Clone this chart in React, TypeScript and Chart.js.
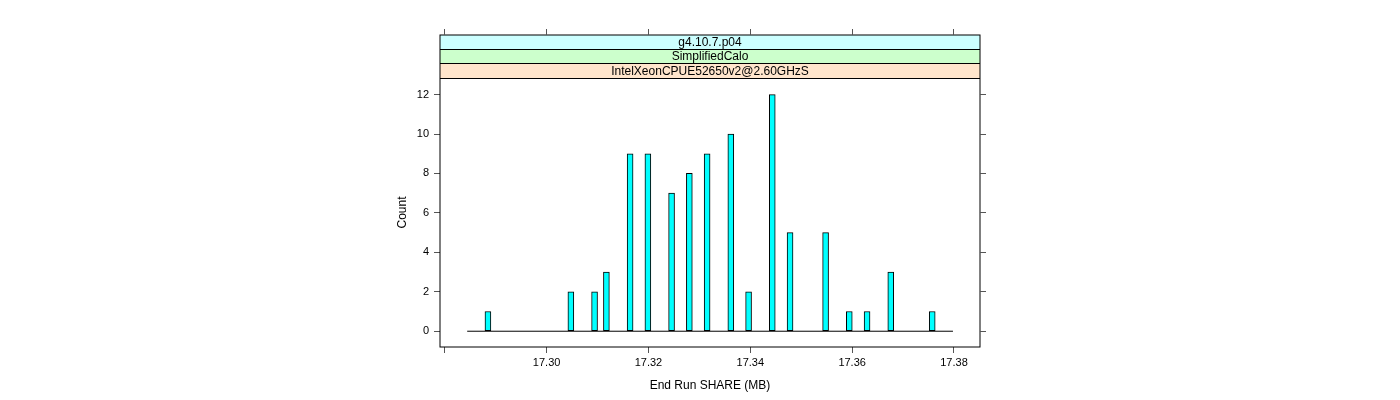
import React, { useEffect, useRef } from 'react';
import { Chart, registerables } from 'chart.js';

Chart.register(...registerables);

// ---- data ----
const histStart = 17.2844; // MB, left edge of first histogram bin
const histEnd = 17.3798; // MB, right edge of last histogram bin
const binCount = 82;
const shareMB = [
  17.2885, 17.3048, 17.3094, 17.3117, 17.3164, 17.3199, 17.3245, 17.328, 17.3315,
  17.3362, 17.3397, 17.3443, 17.3478, 17.3548, 17.3594, 17.3629, 17.3676, 17.3757,
];
const counts = [1, 2, 2, 3, 9, 9, 7, 8, 9, 10, 2, 12, 5, 5, 1, 1, 3, 1];
const xTickValues = [17.28, 17.3, 17.32, 17.34, 17.36, 17.38];
const xTickLabels = ['', '17.30', '17.32', '17.34', '17.36', '17.38'];
const yTickValues = [0, 2, 4, 6, 8, 10, 12];
const xLimits = [17.27906, 17.38511];
const yLimits = [-0.8, 12.84];
const stripLabels = ['g4.10.7.p04', 'SimplifiedCalo', 'IntelXeonCPUE52650v2@2.60GHzS'];
const stripColors = ['#CCFFFF', '#CCFFCC', '#FFE5CC'];
const xTitle = 'End Run SHARE (MB)';
const yTitle = 'Count';

const FONT = "'Liberation Sans', Arial, Helvetica, sans-serif";
const TICK_COLOR = '#555555';

function buildBins() {
  const width = (histEnd - histStart) / binCount;
  const bins = [];
  for (let i = 0; i < binCount; i++) {
    bins.push({ x: histStart + (i + 0.5) * width, y: 0 });
  }
  shareMB.forEach((v, k) => {
    const idx = Math.min(binCount - 1, Math.max(0, Math.floor((v - histStart) / width)));
    bins[idx].y = counts[k];
  });
  return bins;
}

const latticeFrame = {
  id: 'latticeFrame',
  afterDraw(chart: any) {
    const { ctx, chartArea: a, scales } = chart;
    const xs = scales.x;
    const ys = scales.y;
    const align = (p: number) => Math.round(p - 0.5) + 0.5;
    ctx.save();
    // strips (top to bottom)
    const edges = [a.top - 43, a.top - 28.5, a.top - 14.5, a.top];
    for (let i = 0; i < 3; i++) {
      ctx.fillStyle = stripColors[i];
      ctx.fillRect(a.left, edges[i], a.right - a.left, edges[i + 1] - edges[i]);
    }
    ctx.strokeStyle = '#000';
    ctx.lineWidth = 1;
    ctx.beginPath();
    ctx.moveTo(a.left, edges[1]);
    ctx.lineTo(a.right, edges[1]);
    ctx.moveTo(a.left, edges[2]);
    ctx.lineTo(a.right, edges[2]);
    ctx.moveTo(a.left, a.top + 0.5);
    ctx.lineTo(a.right, a.top + 0.5);
    ctx.stroke();
    ctx.fillStyle = '#000';
    ctx.font = `12px ${FONT}`;
    ctx.textAlign = 'center';
    ctx.textBaseline = 'middle';
    const cx = (a.left + a.right) / 2;
    for (let i = 0; i < 3; i++) {
      ctx.fillText(stripLabels[i], cx, (edges[i] + edges[i + 1]) / 2 + 0.5);
    }
    // outer frame
    ctx.strokeStyle = '#000';
    ctx.strokeRect(a.left, edges[0], a.right - a.left, a.bottom - edges[0]);
    // top ticks
    ctx.strokeStyle = TICK_COLOR;
    ctx.beginPath();
    xTickValues.forEach((v) => {
      const px = align(xs.getPixelForValue(v));
      ctx.moveTo(px, edges[0] - 6);
      ctx.lineTo(px, edges[0]);
    });
    // right ticks
    yTickValues.forEach((v) => {
      const py = align(ys.getPixelForValue(v));
      ctx.moveTo(a.right, py);
      ctx.lineTo(a.right + 6, py);
    });
    ctx.stroke();
    ctx.restore();
  },
};

export default function App() {
  const canvasRef = useRef<HTMLCanvasElement | null>(null);

  useEffect(() => {
    const canvas = canvasRef.current;
    if (!canvas) return;
    Chart.defaults.font.family = FONT;
    Chart.defaults.color = '#000';
    const bins = buildBins();
    const chart = new Chart(canvas, {
      type: 'bar',
      data: {
        datasets: [
          {
            type: 'bar',
            data: bins as any,
            backgroundColor: '#00FFFF',
            borderColor: '#000000',
            borderWidth: 1,
            borderSkipped: false,
            barPercentage: 1,
            categoryPercentage: 1,
            order: 2,
          } as any,
          {
            type: 'line',
            data: [
              { x: histStart, y: 0 },
              { x: histEnd, y: 0 },
            ] as any,
            borderColor: '#000000',
            borderWidth: 1,
            pointRadius: 0,
            fill: false,
            order: 1,
          } as any,
        ],
      },
      options: {
        animation: false,
        responsive: false,
        maintainAspectRatio: false,
        layout: { padding: { left: 0, right: 420, top: 78, bottom: 0 } },
        plugins: {
          legend: { display: false },
          tooltip: { enabled: false },
        },
        scales: {
          x: {
            type: 'linear',
            position: 'bottom',
            min: xLimits[0],
            max: xLimits[1],
            offset: false,
            afterBuildTicks: (s: any) => {
              s.ticks = xTickValues.map((v) => ({ value: v }));
            },
            afterFit: (s: any) => {
              s.height = 53;
            },
            grid: {
              offset: false,
              drawOnChartArea: false,
              drawTicks: true,
              tickLength: 6,
              color: TICK_COLOR,
              lineWidth: 1,
            },
            border: { display: false },
            ticks: {
              autoSkip: false,
              maxRotation: 0,
              minRotation: 0,
              padding: 3,
              color: '#000',
              font: { size: 11, family: FONT },
              callback: (_v: any, i: number) => xTickLabels[i],
            },
            title: {
              display: true,
              text: xTitle,
              color: '#000',
              font: { size: 12, family: FONT },
              padding: { top: 0, bottom: 7 },
            },
          } as any,
          y: {
            type: 'linear',
            position: 'left',
            min: yLimits[0],
            max: yLimits[1],
            afterBuildTicks: (s: any) => {
              s.ticks = yTickValues.map((v) => ({ value: v }));
            },
            afterFit: (s: any) => {
              s.width = 440;
            },
            grid: {
              drawOnChartArea: false,
              drawTicks: true,
              tickLength: 6,
              color: TICK_COLOR,
              lineWidth: 1,
            },
            border: { display: false },
            ticks: {
              padding: 5,
              color: '#000',
              font: { size: 11, family: FONT },
              callback: (v: any) => String(v),
            },
            title: {
              display: true,
              text: yTitle,
              color: '#000',
              font: { size: 12, family: FONT },
              padding: { top: 395, bottom: 0 },
            },
          } as any,
        },
      },
      plugins: [latticeFrame],
    });
    return () => chart.destroy();
  }, []);

  return (
    <div style={{ position: 'fixed', left: 0, top: 0, width: 1400, height: 400, background: '#fff' }}>
      <canvas ref={canvasRef} width={1400} height={400} style={{ width: 1400, height: 400, display: 'block' }} />
    </div>
  );
}
